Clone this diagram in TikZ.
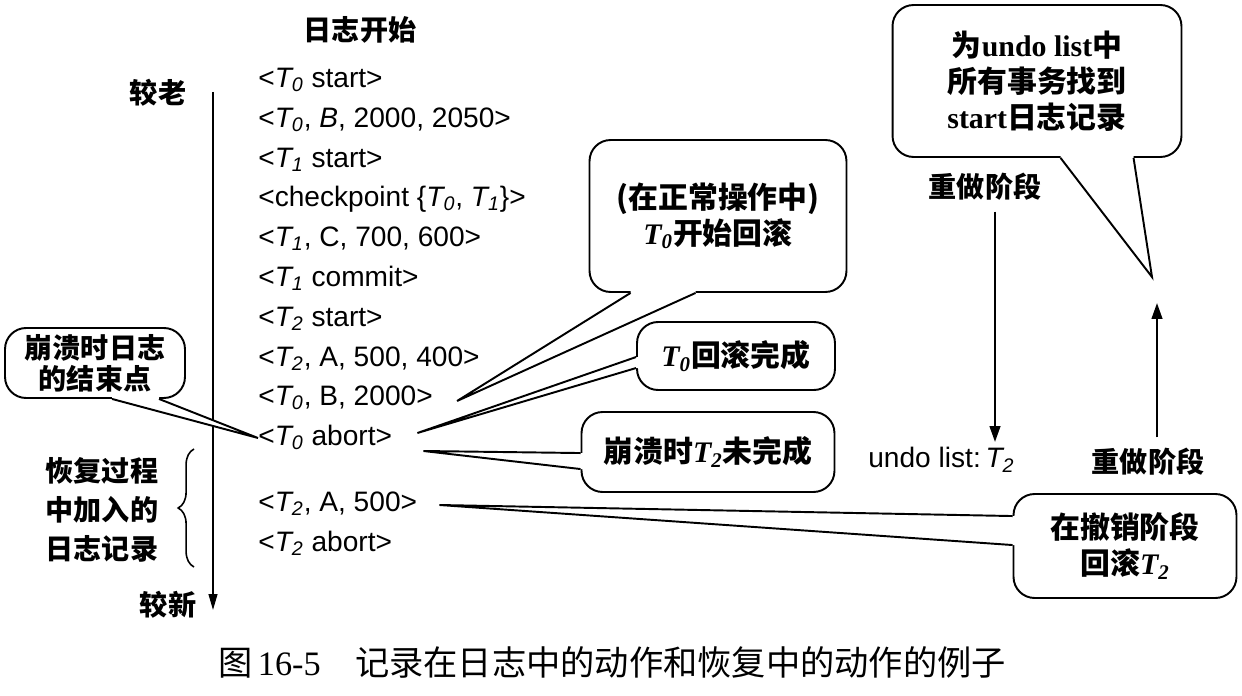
\documentclass[tikz,border=0pt]{standalone}
\usepackage{fontspec}
\setmainfont{Liberation Sans}
\newfontfamily\cjk{Noto Sans CJK SC}
\newfontfamily\rmb{Liberation Serif}
\usepackage{tikz}
\usetikzlibrary{arrows.meta,positioning,calc,decorations.pathreplacing}

\newcommand{\tr}[1]{{\itshape T\textsubscript{#1}}}
\newcommand{\tb}[1]{{\rmb\bfseries\itshape T\textsubscript{#1}}}
\newcommand{\calltail}[4]{%
  \fill[white] ($(#1)+(#4)$) -- (#1) -- (#3) -- (#2) -- ($(#2)+(#4)$) -- cycle;
  \draw[callline] (#1) -- (#3) -- (#2);}

\tikzset{
  logline/.style={anchor=west, inner sep=0pt, text height=11pt, text depth=3pt,
    font=\fontsize{16}{18}\selectfont},
  cjklabel/.style={inner sep=0pt, align=center, font=\cjk\bfseries\fontsize{16}{22}\selectfont},
  callout/.style={draw, line width=1.1pt, rounded corners=12pt, fill=white, align=center,
    inner sep=0pt, font=\cjk\bfseries\fontsize{17}{20.5}\selectfont},
  callline/.style={line width=1.1pt, line join=miter},
  timeaxis/.style={line width=0.9pt, -{Triangle[length=9pt,width=5pt]}},
  phase/.style={line width=1.3pt, -{Triangle[length=9pt,width=6pt]}}
}

\begin{document}
\begin{tikzpicture}[x=0.02cm, y=-0.02cm]
  \useasboundingbox[fill=white] (0,0) rectangle (1242,696);

  \node[cjklabel] (logstart) at (360,30) {日志开始};
  \node[cjklabel] (older) at (158,93) {较老};
  \node[cjklabel] (newer) at (168,605) {较新};
  \coordinate (axtop) at (213,92);
  \coordinate (axbot) at (213,610);
  \draw[timeaxis] (axtop) -- (axbot);

  \node[logline] (l1) at (258,80) {<\tr0 start>};
  \node[logline] (l2) at (258,120) {<\tr0, \textit{B}, 2000, 2050>};
  \node[logline] (l3) at (258,160) {<\tr1 start>};
  \node[logline] (l4) at (258,199) {<checkpoint \{\tr0, \tr1\}>};
  \node[logline] (l5) at (258,239) {<\tr1, C, 700, 600>};
  \node[logline] (l6) at (258,279) {<\tr1 commit>};
  \node[logline] (l7) at (258,319) {<\tr2 start>};
  \node[logline] (l8) at (258,359) {<\tr2, A, 500, 400>};
  \node[logline] (l9) at (258,398) {<\tr0, B, 2000>};
  \node[logline] (l10) at (258,438) {<\tr0 abort>};
  \node[logline] (l11) at (258,504) {<\tr2, A, 500>};
  \node[logline] (l12) at (258,544) {<\tr2 abort>};

  % records written during recovery
  \coordinate (brlow) at (194,567);
  \coordinate (brhigh) at (194,449);
  \draw[line width=0.9pt, decorate, decoration={brace, amplitude=9pt}] (brlow) -- (brhigh);
  \node[cjklabel] (recovery) at (102,510) {恢复过程\\中加入的\\日志记录};

  % callouts
  \node[callout, minimum width=3.6cm, minimum height=1.4cm,
    font=\cjk\bfseries\fontsize{16}{17.5}\selectfont] (crashend) at (95,363) {崩溃时日志\\的结束点};
  \coordinate (ce1) at ($(crashend.south west)+(108,0)$);
  \coordinate (ce2) at ($(crashend.south west)+(155,0)$);
  \calltail{ce1}{ce2}{l10.west}{0,-3}

  \node[callout, minimum width=5.14cm, minimum height=3.04cm] (normalop) at (718,216)
    {(在正常操作中)\\\tb0开始回滚};
  \coordinate (no1) at ($(normalop.south west)+(42,0)$);
  \coordinate (no2) at ($(normalop.south west)+(107,0)$);
  \coordinate (notip) at ($(l9.east)+(24,3)$);
  \calltail{no1}{no2}{notip}{0,-3}

  \node[callout, minimum width=3.96cm, minimum height=1.36cm] (rbdone) at (736,356) {\tb0回滚完成};
  \coordinate (rb1) at ($(rbdone.north west)+(0,36)$);
  \coordinate (rb2) at ($(rbdone.north west)+(0,47)$);
  \coordinate (rbtip) at ($(l10.east)+(25,-5)$);
  \calltail{rb1}{rb2}{rbtip}{3,0}

  \node[callout, minimum width=5.06cm, minimum height=1.6cm] (crasht2) at (708,452) {崩溃时\tb2未完成};
  \coordinate (ct1) at ($(crasht2.north west)+(0,42)$);
  \coordinate (ct2) at ($(crasht2.north west)+(0,58)$);
  \coordinate (cttip) at ($(l10.east)+(31,13)$);
  \calltail{ct1}{ct2}{cttip}{3,0}

  \node[callout, minimum width=4.46cm, minimum height=2.08cm] (undophase) at (1125,546)
    {在撤销阶段\\回滚\tb2};
  \coordinate (up1) at ($(undophase.north west)+(0,23)$);
  \coordinate (up2) at ($(undophase.north west)+(0,52)$);
  \coordinate (uptip) at ($(l11.east)+(22,1)$);
  \calltail{up1}{up2}{uptip}{3,0}

  \node[callout, minimum width=5.78cm, minimum height=3.04cm] (findstart) at (1037,81)
    {为{\rmb\bfseries undo list}中\\所有事务找到\\{\rmb\bfseries start}日志记录};
  \coordinate (fs1) at ($(findstart.south west)+(169,0)$);
  \coordinate (fs2) at ($(findstart.south west)+(242,0)$);
  \coordinate (fstip) at (1152,277);
  \calltail{fs1}{fs2}{fstip}{0,-3}

  % phases
  \node[cjklabel] (redoa) at (985,187) {重做阶段};
  \node[anchor=west, inner sep=0pt, font=\fontsize{16}{18}\selectfont] (undolist) at (868,460)
    {undo list:\,\tr2};
  \node[cjklabel] (redob) at (1148,462) {重做阶段};
  \coordinate (downend) at (995,442);
  \coordinate (upend) at (1157,303);
  \draw[phase] ([yshift=-6pt]redoa.south -| downend) -- (downend);
  \draw[phase] ([yshift=6pt]redob.north -| upend) -- (upend);

  \node (caption) at (612,662) {\fontsize{19.5}{22}\selectfont\cjk 图\,{\rmb 16-5}\quad 记录在日志中的动作和恢复中的动作的例子};
\end{tikzpicture}
\end{document}
